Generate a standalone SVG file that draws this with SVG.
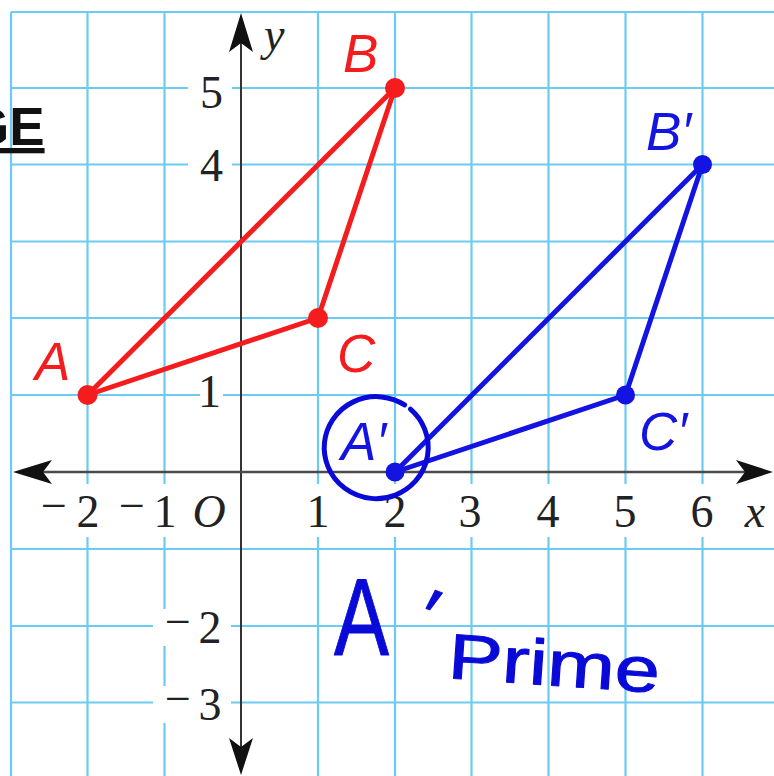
<svg xmlns="http://www.w3.org/2000/svg" width="774" height="776" viewBox="0 0 774 776">
<style>
.grid line{stroke:#6ccbf0;stroke-width:2.2}
.bg rect{fill:#fff}
.num{font-family:"Liberation Serif","DejaVu Serif",serif;font-size:46px;fill:#222}
.num-x{text-anchor:middle}
.num-y{text-anchor:end}
.it{font-style:italic}
.lbl{font-family:"Liberation Sans",Arial,sans-serif;font-style:italic;font-size:53px}
.red{fill:#f41c1c}
.blue{fill:#1414e2}
.edge-r{stroke:#f41c1c;stroke-width:5;fill:none;stroke-linecap:round}
.edge-b{stroke:#1414e2;stroke-width:5;fill:none;stroke-linecap:round}
.hand{font-family:"Liberation Sans",Arial,sans-serif;fill:#0a0ad8;stroke:#0a0ad8;stroke-width:1;stroke-linejoin:round}
.arrow{fill:#111}
</style>
<rect width="774" height="776" fill="#fff"/>
<g id="grid" class="grid">
<line x1="11" y1="12" x2="11" y2="776"/>
<line x1="87.5" y1="12" x2="87.5" y2="776"/>
<line x1="164.5" y1="12" x2="164.5" y2="776"/>
<line x1="318" y1="12" x2="318" y2="776"/>
<line x1="395" y1="12" x2="395" y2="776"/>
<line x1="471.5" y1="12" x2="471.5" y2="776"/>
<line x1="548.5" y1="12" x2="548.5" y2="776"/>
<line x1="625.5" y1="12" x2="625.5" y2="776"/>
<line x1="702.5" y1="12" x2="702.5" y2="776"/>
<line x1="11" y1="12" x2="774" y2="12"/>
<line x1="11" y1="88" x2="774" y2="88"/>
<line x1="11" y1="164.5" x2="774" y2="164.5"/>
<line x1="11" y1="241.5" x2="774" y2="241.5"/>
<line x1="11" y1="318" x2="774" y2="318"/>
<line x1="11" y1="395" x2="774" y2="395"/>
<line x1="11" y1="549" x2="774" y2="549"/>
<line x1="11" y1="626" x2="774" y2="626"/>
<line x1="11" y1="702.5" x2="774" y2="702.5"/>
</g>
<g id="label-backgrounds" class="bg">
<rect x="188" y="74" width="44" height="36"/>
<rect x="188" y="148" width="44" height="36"/>
<rect x="200" y="377" width="23" height="32"/>
<rect x="153" y="609" width="78" height="37"/>
<rect x="153" y="686" width="78" height="37"/>
<rect x="36" y="484" width="68" height="53"/>
<rect x="112" y="484" width="66" height="53"/>
<rect x="304" y="484" width="28" height="53"/>
<rect x="381" y="484" width="28" height="53"/>
<rect x="458" y="484" width="28" height="53"/>
<rect x="535" y="484" width="28" height="53"/>
<rect x="612" y="484" width="28" height="53"/>
<rect x="689" y="484" width="28" height="53"/>
</g>
<g id="axes">
<line x1="241" y1="40" x2="241" y2="750" stroke="#333" stroke-width="2"/>
<line x1="40" y1="472" x2="750" y2="472" stroke="#4a4a4a" stroke-width="2.6"/>
<path class="arrow" d="M241,13 L253,52 L241,43 L229,52 Z"/>
<path class="arrow" d="M241,775 L253,738 L241,747 L229,738 Z"/>
<path class="arrow" d="M13,472 L52,460 L43,472 L52,484 Z"/>
<path class="arrow" d="M773,472 L736,460 L745,472 L736,484 Z"/>
</g>
<g id="tick-labels">
<text class="num num-x"><tspan x="54" y="521">−</tspan><tspan x="88" y="527">2</tspan></text>
<text class="num num-x"><tspan x="132" y="521">−</tspan><tspan x="165" y="527">1</tspan></text>
<text class="num num-x it" x="209" y="527" font-size="48">O</text>
<text class="num num-x" x="318" y="527">1</text>
<text class="num num-x" x="395" y="527">2</text>
<text class="num num-x" x="470" y="527">3</text>
<text class="num num-x" x="548" y="527">4</text>
<text class="num num-x" x="625" y="527">5</text>
<text class="num num-x" x="702" y="527">6</text>
<text class="num num-x it" x="755" y="527" font-size="50">x</text>
<text class="num num-y" x="223" y="108">5</text>
<text class="num num-y" x="223" y="181">4</text>
<text class="num num-y" x="221" y="407">1</text>
<text class="num num-x"><tspan x="178" y="637">−</tspan><tspan x="210" y="643">2</tspan></text>
<text class="num num-x"><tspan x="178" y="714">−</tspan><tspan x="210" y="720">3</tspan></text>
<text class="num it" x="264" y="50" font-size="50">y</text>
</g>
<text x="-32" y="145" font-family="Liberation Sans, Arial, sans-serif" font-weight="bold" font-size="53" fill="#111" text-decoration="underline">GE</text>
<g id="connectors">
<line class="edge-r" x1="87.5" y1="395" x2="395" y2="88"/>
<line class="edge-r" x1="395" y1="88" x2="318" y2="318"/>
<line class="edge-r" x1="318" y1="318" x2="87.5" y2="395"/>
<line class="edge-b" x1="395" y1="472" x2="702.5" y2="164.5"/>
<line class="edge-b" x1="702.5" y1="164.5" x2="625.5" y2="395"/>
<line class="edge-b" x1="625.5" y1="395" x2="395" y2="472"/>
</g>
<g id="node-A"><circle cx="87.5" cy="395" r="10" class="red"/><text class="lbl red" x="35" y="380">A</text></g>
<g id="node-B"><circle cx="395" cy="88" r="10" class="red"/><text class="lbl red" x="343" y="72">B</text></g>
<g id="node-C"><circle cx="318" cy="318" r="10" class="red"/><text class="lbl red" x="337" y="372">C</text></g>
<g id="node-A-prime"><circle cx="395" cy="472" r="9.5" class="blue"/><text class="lbl blue" x="341" y="460">A′</text></g>
<g id="node-B-prime"><circle cx="702.5" cy="164.5" r="9.5" class="blue"/><text class="lbl blue" x="646" y="150">B′</text></g>
<g id="node-C-prime"><circle cx="625.5" cy="395" r="9.5" class="blue"/><text class="lbl blue" x="639" y="450">C′</text></g>
<g id="annotation">
<path d="M410.4,409.2 A52,51 0 1 1 404.6,404.9" fill="none" stroke="#0a0ad8" stroke-width="5" stroke-linecap="round"/>
<text class="hand"><tspan x="334" y="655" font-size="110" textLength="55" lengthAdjust="spacingAndGlyphs">A</tspan><tspan x="411" y="640" font-size="80" rotate="20">′</tspan></text>
<text class="hand" x="447" y="678" font-size="64" textLength="212" lengthAdjust="spacingAndGlyphs" transform="rotate(4 447 678)">Prime</text>
</g>
</svg>
